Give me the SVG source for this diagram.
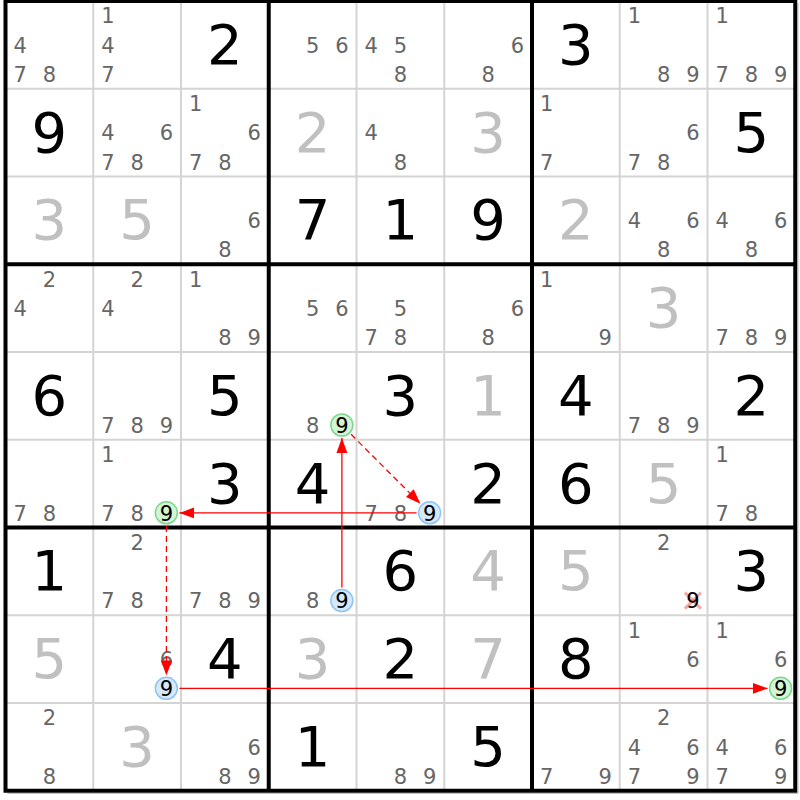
<svg xmlns="http://www.w3.org/2000/svg" width="800" height="800" viewBox="0 0 800 800">
<style>
text{font-family:"DejaVu Sans","Liberation Sans",sans-serif;text-anchor:middle}
.b{font-size:56px;fill:#000}
.g{font-size:56px;fill:#c0c0c0}
.p{font-size:21px;fill:#666}
.k{font-size:21px;fill:#000}
.thin{stroke:#d4d4d4;stroke-width:2}
.thick{stroke:#000;stroke-width:4}
.cg{fill:#d4f5d4;stroke:#7ed68e;stroke-width:1.5}
.cb{fill:#d6e9fb;stroke:#90c4f4;stroke-width:1.5}
.ln{stroke:#ff0000;stroke-width:1.3;fill:none;marker-end:url(#ah)}
.d{stroke-dasharray:6,4}
.x{stroke:#f07070;stroke-width:3;opacity:0.6}
</style>
<defs>
<marker id="ah" markerUnits="userSpaceOnUse" markerWidth="16" markerHeight="12" refX="15" refY="6" orient="auto"><path d="M0,0.5 L15,6 L0,11.5 Z" fill="#ff0000"/></marker>
</defs>
<rect width="800" height="800" fill="#fff"/>
<g id="grid">
<line class="thin" x1="93.25" y1="1" x2="93.25" y2="790.75"/>
<line class="thin" x1="181" y1="1" x2="181" y2="790.75"/>
<line class="thin" x1="356.5" y1="1" x2="356.5" y2="790.75"/>
<line class="thin" x1="444.25" y1="1" x2="444.25" y2="790.75"/>
<line class="thin" x1="619.75" y1="1" x2="619.75" y2="790.75"/>
<line class="thin" x1="707.5" y1="1" x2="707.5" y2="790.75"/>
<line class="thin" x1="5.5" y1="88.75" x2="795.25" y2="88.75"/>
<line class="thin" x1="5.5" y1="176.5" x2="795.25" y2="176.5"/>
<line class="thin" x1="5.5" y1="352" x2="795.25" y2="352"/>
<line class="thin" x1="5.5" y1="439.75" x2="795.25" y2="439.75"/>
<line class="thin" x1="5.5" y1="615.25" x2="795.25" y2="615.25"/>
<line class="thin" x1="5.5" y1="703" x2="795.25" y2="703"/>
<line class="thick" x1="268.75" y1="1" x2="268.75" y2="790.75"/>
<line class="thick" x1="532" y1="1" x2="532" y2="790.75"/>
<line class="thick" x1="5.5" y1="264.25" x2="795.25" y2="264.25"/>
<line class="thick" x1="5.5" y1="527.5" x2="795.25" y2="527.5"/>
<path d="M798,3 V793.5 H7.5" fill="none" stroke="#c0c0c0" stroke-width="1"/>
<rect x="5.5" y="1" width="789.75" height="789.75" fill="none" stroke="#000" stroke-width="4"/>
</g>

<g id="r1c1" transform="translate(5.5,1)"><text class="p" x="14.6" y="51.5">4</text><text class="p" x="14.6" y="80.8">7</text><text class="p" x="43.9" y="80.8">8</text></g>
<g id="r1c2" transform="translate(93.25,1)"><text class="p" x="14.6" y="22.3">1</text><text class="p" x="14.6" y="51.5">4</text><text class="p" x="14.6" y="80.8">7</text></g>
<g id="r1c3" transform="translate(181,1)"><text class="b" x="43.9" y="62.9">2</text></g>
<g id="r1c4" transform="translate(268.75,1)"><text class="p" x="43.9" y="51.5">5</text><text class="p" x="73.1" y="51.5">6</text></g>
<g id="r1c5" transform="translate(356.5,1)"><text class="p" x="14.6" y="51.5">4</text><text class="p" x="43.9" y="51.5">5</text><text class="p" x="43.9" y="80.8">8</text></g>
<g id="r1c6" transform="translate(444.25,1)"><text class="p" x="73.1" y="51.5">6</text><text class="p" x="43.9" y="80.8">8</text></g>
<g id="r1c7" transform="translate(532,1)"><text class="b" x="43.9" y="62.9">3</text></g>
<g id="r1c8" transform="translate(619.75,1)"><text class="p" x="14.6" y="22.3">1</text><text class="p" x="43.9" y="80.8">8</text><text class="p" x="73.1" y="80.8">9</text></g>
<g id="r1c9" transform="translate(707.5,1)"><text class="p" x="14.6" y="22.3">1</text><text class="p" x="14.6" y="80.8">7</text><text class="p" x="43.9" y="80.8">8</text><text class="p" x="73.1" y="80.8">9</text></g>

<g id="r2c1" transform="translate(5.5,88.75)"><text class="b" x="43.9" y="62.9">9</text></g>
<g id="r2c2" transform="translate(93.25,88.75)"><text class="p" x="14.6" y="51.5">4</text><text class="p" x="73.1" y="51.5">6</text><text class="p" x="14.6" y="80.8">7</text><text class="p" x="43.9" y="80.8">8</text></g>
<g id="r2c3" transform="translate(181,88.75)"><text class="p" x="14.6" y="22.3">1</text><text class="p" x="73.1" y="51.5">6</text><text class="p" x="14.6" y="80.8">7</text><text class="p" x="43.9" y="80.8">8</text></g>
<g id="r2c4" transform="translate(268.75,88.75)"><text class="g" x="43.9" y="62.9">2</text></g>
<g id="r2c5" transform="translate(356.5,88.75)"><text class="p" x="14.6" y="51.5">4</text><text class="p" x="43.9" y="80.8">8</text></g>
<g id="r2c6" transform="translate(444.25,88.75)"><text class="g" x="43.9" y="62.9">3</text></g>
<g id="r2c7" transform="translate(532,88.75)"><text class="p" x="14.6" y="22.3">1</text><text class="p" x="14.6" y="80.8">7</text></g>
<g id="r2c8" transform="translate(619.75,88.75)"><text class="p" x="73.1" y="51.5">6</text><text class="p" x="14.6" y="80.8">7</text><text class="p" x="43.9" y="80.8">8</text></g>
<g id="r2c9" transform="translate(707.5,88.75)"><text class="b" x="43.9" y="62.9">5</text></g>

<g id="r3c1" transform="translate(5.5,176.5)"><text class="g" x="43.9" y="62.9">3</text></g>
<g id="r3c2" transform="translate(93.25,176.5)"><text class="g" x="43.9" y="62.9">5</text></g>
<g id="r3c3" transform="translate(181,176.5)"><text class="p" x="73.1" y="51.5">6</text><text class="p" x="43.9" y="80.8">8</text></g>
<g id="r3c4" transform="translate(268.75,176.5)"><text class="b" x="43.9" y="62.9">7</text></g>
<g id="r3c5" transform="translate(356.5,176.5)"><text class="b" x="43.9" y="62.9">1</text></g>
<g id="r3c6" transform="translate(444.25,176.5)"><text class="b" x="43.9" y="62.9">9</text></g>
<g id="r3c7" transform="translate(532,176.5)"><text class="g" x="43.9" y="62.9">2</text></g>
<g id="r3c8" transform="translate(619.75,176.5)"><text class="p" x="14.6" y="51.5">4</text><text class="p" x="73.1" y="51.5">6</text><text class="p" x="43.9" y="80.8">8</text></g>
<g id="r3c9" transform="translate(707.5,176.5)"><text class="p" x="14.6" y="51.5">4</text><text class="p" x="73.1" y="51.5">6</text><text class="p" x="43.9" y="80.8">8</text></g>

<g id="r4c1" transform="translate(5.5,264.25)"><text class="p" x="43.9" y="22.3">2</text><text class="p" x="14.6" y="51.5">4</text></g>
<g id="r4c2" transform="translate(93.25,264.25)"><text class="p" x="43.9" y="22.3">2</text><text class="p" x="14.6" y="51.5">4</text></g>
<g id="r4c3" transform="translate(181,264.25)"><text class="p" x="14.6" y="22.3">1</text><text class="p" x="43.9" y="80.8">8</text><text class="p" x="73.1" y="80.8">9</text></g>
<g id="r4c4" transform="translate(268.75,264.25)"><text class="p" x="43.9" y="51.5">5</text><text class="p" x="73.1" y="51.5">6</text></g>
<g id="r4c5" transform="translate(356.5,264.25)"><text class="p" x="43.9" y="51.5">5</text><text class="p" x="14.6" y="80.8">7</text><text class="p" x="43.9" y="80.8">8</text></g>
<g id="r4c6" transform="translate(444.25,264.25)"><text class="p" x="73.1" y="51.5">6</text><text class="p" x="43.9" y="80.8">8</text></g>
<g id="r4c7" transform="translate(532,264.25)"><text class="p" x="14.6" y="22.3">1</text><text class="p" x="73.1" y="80.8">9</text></g>
<g id="r4c8" transform="translate(619.75,264.25)"><text class="g" x="43.9" y="62.9">3</text></g>
<g id="r4c9" transform="translate(707.5,264.25)"><text class="p" x="14.6" y="80.8">7</text><text class="p" x="43.9" y="80.8">8</text><text class="p" x="73.1" y="80.8">9</text></g>

<g id="r5c1" transform="translate(5.5,352)"><text class="b" x="43.9" y="62.9">6</text></g>
<g id="r5c2" transform="translate(93.25,352)"><text class="p" x="14.6" y="80.8">7</text><text class="p" x="43.9" y="80.8">8</text><text class="p" x="73.1" y="80.8">9</text></g>
<g id="r5c3" transform="translate(181,352)"><text class="b" x="43.9" y="62.9">5</text></g>
<g id="r5c4" transform="translate(268.75,352)"><text class="p" x="43.9" y="80.8">8</text><circle class="cg" cx="73.1" cy="73.1" r="11"/><text class="k" x="73.1" y="80.8">9</text></g>
<g id="r5c5" transform="translate(356.5,352)"><text class="b" x="43.9" y="62.9">3</text></g>
<g id="r5c6" transform="translate(444.25,352)"><text class="g" x="43.9" y="62.9">1</text></g>
<g id="r5c7" transform="translate(532,352)"><text class="b" x="43.9" y="62.9">4</text></g>
<g id="r5c8" transform="translate(619.75,352)"><text class="p" x="14.6" y="80.8">7</text><text class="p" x="43.9" y="80.8">8</text><text class="p" x="73.1" y="80.8">9</text></g>
<g id="r5c9" transform="translate(707.5,352)"><text class="b" x="43.9" y="62.9">2</text></g>

<g id="r6c1" transform="translate(5.5,439.75)"><text class="p" x="14.6" y="80.8">7</text><text class="p" x="43.9" y="80.8">8</text></g>
<g id="r6c2" transform="translate(93.25,439.75)"><text class="p" x="14.6" y="22.3">1</text><text class="p" x="14.6" y="80.8">7</text><text class="p" x="43.9" y="80.8">8</text><circle class="cg" cx="73.1" cy="73.1" r="11"/><text class="k" x="73.1" y="80.8">9</text></g>
<g id="r6c3" transform="translate(181,439.75)"><text class="b" x="43.9" y="62.9">3</text></g>
<g id="r6c4" transform="translate(268.75,439.75)"><text class="b" x="43.9" y="62.9">4</text></g>
<g id="r6c5" transform="translate(356.5,439.75)"><text class="p" x="14.6" y="80.8">7</text><text class="p" x="43.9" y="80.8">8</text><circle class="cb" cx="73.1" cy="73.1" r="11"/><text class="k" x="73.1" y="80.8">9</text></g>
<g id="r6c6" transform="translate(444.25,439.75)"><text class="b" x="43.9" y="62.9">2</text></g>
<g id="r6c7" transform="translate(532,439.75)"><text class="b" x="43.9" y="62.9">6</text></g>
<g id="r6c8" transform="translate(619.75,439.75)"><text class="g" x="43.9" y="62.9">5</text></g>
<g id="r6c9" transform="translate(707.5,439.75)"><text class="p" x="14.6" y="22.3">1</text><text class="p" x="14.6" y="80.8">7</text><text class="p" x="43.9" y="80.8">8</text></g>

<g id="r7c1" transform="translate(5.5,527.5)"><text class="b" x="43.9" y="62.9">1</text></g>
<g id="r7c2" transform="translate(93.25,527.5)"><text class="p" x="43.9" y="22.3">2</text><text class="p" x="14.6" y="80.8">7</text><text class="p" x="43.9" y="80.8">8</text></g>
<g id="r7c3" transform="translate(181,527.5)"><text class="p" x="14.6" y="80.8">7</text><text class="p" x="43.9" y="80.8">8</text><text class="p" x="73.1" y="80.8">9</text></g>
<g id="r7c4" transform="translate(268.75,527.5)"><text class="p" x="43.9" y="80.8">8</text><circle class="cb" cx="73.1" cy="73.1" r="11"/><text class="k" x="73.1" y="80.8">9</text></g>
<g id="r7c5" transform="translate(356.5,527.5)"><text class="b" x="43.9" y="62.9">6</text></g>
<g id="r7c6" transform="translate(444.25,527.5)"><text class="g" x="43.9" y="62.9">4</text></g>
<g id="r7c7" transform="translate(532,527.5)"><text class="g" x="43.9" y="62.9">5</text></g>
<g id="r7c8" transform="translate(619.75,527.5)"><text class="p" x="43.9" y="22.3">2</text><line class="x" x1="65.1" y1="65.1" x2="81.1" y2="81.1"/><line class="x" x1="81.1" y1="65.1" x2="65.1" y2="81.1"/><text class="k" x="73.1" y="80.8">9</text></g>
<g id="r7c9" transform="translate(707.5,527.5)"><text class="b" x="43.9" y="62.9">3</text></g>

<g id="r8c1" transform="translate(5.5,615.25)"><text class="g" x="43.9" y="62.9">5</text></g>
<g id="r8c2" transform="translate(93.25,615.25)"><text class="p" x="73.1" y="51.5">6</text><circle class="cb" cx="73.1" cy="73.1" r="11"/><text class="k" x="73.1" y="80.8">9</text></g>
<g id="r8c3" transform="translate(181,615.25)"><text class="b" x="43.9" y="62.9">4</text></g>
<g id="r8c4" transform="translate(268.75,615.25)"><text class="g" x="43.9" y="62.9">3</text></g>
<g id="r8c5" transform="translate(356.5,615.25)"><text class="b" x="43.9" y="62.9">2</text></g>
<g id="r8c6" transform="translate(444.25,615.25)"><text class="g" x="43.9" y="62.9">7</text></g>
<g id="r8c7" transform="translate(532,615.25)"><text class="b" x="43.9" y="62.9">8</text></g>
<g id="r8c8" transform="translate(619.75,615.25)"><text class="p" x="14.6" y="22.3">1</text><text class="p" x="73.1" y="51.5">6</text></g>
<g id="r8c9" transform="translate(707.5,615.25)"><text class="p" x="14.6" y="22.3">1</text><text class="p" x="73.1" y="51.5">6</text><circle class="cg" cx="73.1" cy="73.1" r="11"/><text class="k" x="73.1" y="80.8">9</text></g>

<g id="r9c1" transform="translate(5.5,703)"><text class="p" x="43.9" y="22.3">2</text><text class="p" x="43.9" y="80.8">8</text></g>
<g id="r9c2" transform="translate(93.25,703)"><text class="g" x="43.9" y="62.9">3</text></g>
<g id="r9c3" transform="translate(181,703)"><text class="p" x="73.1" y="51.5">6</text><text class="p" x="43.9" y="80.8">8</text><text class="p" x="73.1" y="80.8">9</text></g>
<g id="r9c4" transform="translate(268.75,703)"><text class="b" x="43.9" y="62.9">1</text></g>
<g id="r9c5" transform="translate(356.5,703)"><text class="p" x="43.9" y="80.8">8</text><text class="p" x="73.1" y="80.8">9</text></g>
<g id="r9c6" transform="translate(444.25,703)"><text class="b" x="43.9" y="62.9">5</text></g>
<g id="r9c7" transform="translate(532,703)"><text class="p" x="14.6" y="80.8">7</text><text class="p" x="73.1" y="80.8">9</text></g>
<g id="r9c8" transform="translate(619.75,703)"><text class="p" x="43.9" y="22.3">2</text><text class="p" x="14.6" y="51.5">4</text><text class="p" x="73.1" y="51.5">6</text><text class="p" x="14.6" y="80.8">7</text><text class="p" x="73.1" y="80.8">9</text></g>
<g id="r9c9" transform="translate(707.5,703)"><text class="p" x="14.6" y="51.5">4</text><text class="p" x="73.1" y="51.5">6</text><text class="p" x="14.6" y="80.8">7</text><text class="p" x="73.1" y="80.8">9</text></g>

<g id="connectors">
<line class="ln" x1="341.9" y1="587.6" x2="341.9" y2="438.1"/>
<line class="ln d" x1="351.1" y1="434.3" x2="420.4" y2="503.7"/>
<line class="ln" x1="416.6" y1="512.9" x2="179.4" y2="512.9"/>
<line class="ln d" x1="166.4" y1="525.9" x2="166.4" y2="675.4"/>
<line class="ln" x1="179.4" y1="688.4" x2="767.6" y2="688.4"/>
</g>
</svg>
